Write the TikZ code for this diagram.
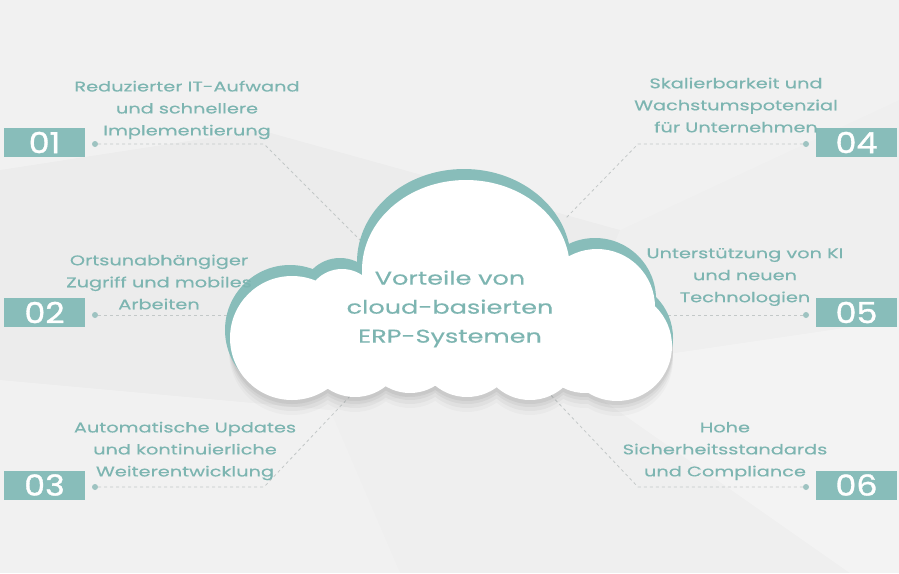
\documentclass[tikz,border=0pt]{standalone}
\usepackage{fontspec}
\setmainfont{Poppins}[FakeStretch=1.38, FakeBold=0.4]
\newfontfamily\numfont{Poppins}[FakeStretch=1.15, FakeBold=1.2]
\definecolor{tealbox}{HTML}{88BDBA}
\definecolor{tealtxt}{HTML}{7DB5B1}
\definecolor{dashc}{HTML}{C3C8C8}
\definecolor{dotc}{HTML}{9EC3C1}
\definecolor{bgc}{HTML}{EFEFEF}
\newcommand\cloudpath[3]{%
 (292+#1,338+#2) circle[radius=62+#3]
 (342+#1,305+#2) circle[radius=36+#3]
 (466+#1,270+#2) circle[x radius=104+#3, y radius=90+#3]
 (597+#1,307+#2) circle[radius=58+#3]
 (617+#1,346+#2) circle[radius=55+#3]
 (300+#1,345+#2) circle[radius=48+#3]
 (355+#1,348+#2) circle[radius=49+#3]
 (410+#1,346+#2) circle[radius=47+#3]
 (467+#1,347+#2) circle[radius=50+#3]
 (530+#1,350+#2) circle[radius=50+#3]
 (585+#1,345+#2) circle[radius=48+#3]
 (625+#1,338+#2) circle[radius=42+#3]}
\tikzset{
  numbox/.style={fill=tealbox, text=white, minimum width=81, minimum height=29, inner sep=0pt,
    font=\numfont\fontsize{29}{29}\selectfont},
  label/.style={text=tealtxt, align=center, inner sep=0pt, font=\fontsize{14}{22}\selectfont},
  title/.style={text=tealtxt, align=center, inner sep=0pt, font=\fontsize{18.5}{29}\selectfont},
  dot/.style={circle, fill=dotc, minimum size=6, inner sep=0pt},
  dashline/.style={draw=dashc, line width=0.8pt, dash pattern=on 3pt off 3pt}
}
\begin{document}
\begin{tikzpicture}[x=1pt,y=-1pt]
\fill[bgc] (0,0) rectangle (899,573);
\useasboundingbox (0,0) rectangle (899,573);
% subtle background facets
\fill[white, opacity=0.18] (0,0) -- (899,0) -- (899,100) -- (620,230) -- (260,130) -- (0,170) -- cycle;
\fill[white, opacity=0.3] (560,370) -- (899,320) -- (899,573) -- (850,573) -- cycle;
\fill[white, opacity=0.15] (0,380) -- (330,410) -- (400,573) -- (0,573) -- cycle;
\fill[black, opacity=0.012] (260,130) -- (620,230) -- (560,370) -- (330,410) -- (0,380) -- (0,170) -- cycle;

% connectors
\node[dot] (d1) at (95,144) {};
\node[dot] (d2) at (95,315) {};
\node[dot] (d3) at (95,487) {};
\node[dot] (d4) at (806,144) {};
\node[dot] (d5) at (806,315) {};
\node[dot] (d6) at (806,487) {};
\coordinate (k1) at (264,144);
\coordinate (e1) at (362,242);
\coordinate (e2) at (240,315);
\coordinate (k3) at (264,487);
\coordinate (e3) at (352,394);
\coordinate (k4) at (638,144);
\coordinate (e4) at (566,218);
\coordinate (e5) at (660,315);
\coordinate (k6) at (638,487);
\coordinate (e6) at (546,390);
\draw[dashline] (d1) -- (k1) -- (e1);
\draw[dashline] (d2) -- (e2);
\draw[dashline] (d3) -- (k3) -- (e3);
\draw[dashline] (d4) -- (k4) -- (e4);
\draw[dashline] (d5) -- (e5);
\draw[dashline] (d6) -- (k6) -- (e6);

% cloud
\foreach \s/\o in {14/0.025, 10/0.035, 6/0.045, 3/0.05} {
  \fill[black, opacity=\o] \cloudpath{0}{\s}{1};
}
\fill[tealbox] \cloudpath{-2}{-8}{3};
\fill[white] \cloudpath{0}{0}{0};
\node[title] (c) at (450,309) {Vorteile von\\cloud-basierten\\ERP-Systemen};

% number boxes
\node[numbox] (n1) at (44.5,142.5) {01};
\node[numbox] (n2) at (44.5,312.5) {02};
\node[numbox] (n3) at (44.5,485) {03};
\node[numbox] (n4) at (856.5,142.5) {04};
\node[numbox] (n5) at (856.5,312.5) {05};
\node[numbox] (n6) at (856.5,485) {06};

% labels
\node[label] (t1) at (187,110) {Reduzierter IT-Aufwand\\und schnellere\\Implementierung};
\node[label] (t2) at (159,282) {Ortsunabhängiger\\Zugriff und mobiles\\Arbeiten};
\node[label] (t3) at (185,451) {Automatische Updates\\und kontinuierliche\\Weiterentwicklung};
\node[label] (t4) at (736,105) {Skalierbarkeit und\\Wachstumspotenzial\\für Unternehmen};
\node[label] (t5) at (745,277) {Unterstützung von KI\\und neuen\\Technologien};
\node[label] (t6) at (725,451) {Hohe\\Sicherheitsstandards\\und Compliance};
\end{tikzpicture}
\end{document}
